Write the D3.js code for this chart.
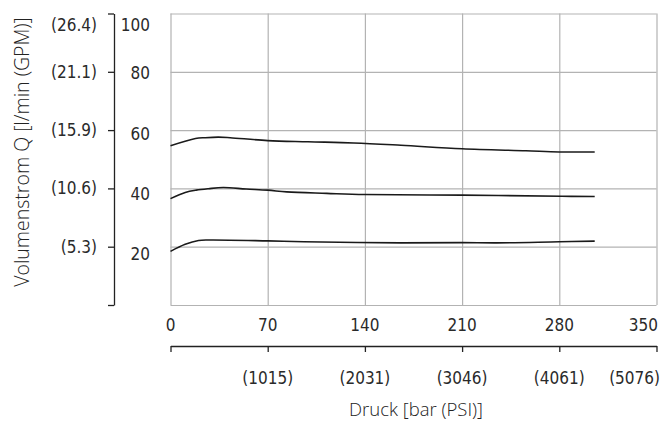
<!DOCTYPE html>
<html>
<head>
<meta charset="utf-8">
<script src="https://cdn.jsdelivr.net/npm/d3@7"></script>
<style>
  body { margin: 0; background: #fff; }
  .num { font-family: "DejaVu Sans", sans-serif; font-stretch: condensed; font-size: 17px; fill: #2a2a2a; }
  .ttl { font-family: "Open Sans", "Noto Sans", sans-serif; font-weight: 300; fill: #222; }
  .grid line { stroke: #b3b3b3; stroke-width: 1.2; }
  .grid path { display: none; }
</style>
</head>
<body>
<svg width="661" height="421"></svg>
<script>
// pressure in bar
var pTicks = [0, 70, 140, 210, 280, 350];
var psiLabels = ["", "(1015)", "(2031)", "(3046)", "(4061)", "(5076)"];
// flow in l/min
var qTicks = [0, 20, 40, 60, 80, 100];
var gpmLabels = ["", "(5.3)", "(10.6)", "(15.9)", "(21.1)", "(26.4)"];

var upperP = [0, 18, 25, 34.5, 43, 70, 99, 132, 166, 210, 256, 280, 305.5];
var upperQ = [54.6, 57.1, 57.4, 57.6, 57.4, 56.4, 56.0, 55.6, 54.8, 53.6, 52.9, 52.5, 52.5];
var middleP = [0, 10.6, 18.5, 27.3, 38, 54.5, 70, 83.7, 112.5, 140, 210, 282, 305.5];
var middleQ = [36.5, 38.6, 39.4, 39.9, 40.3, 39.8, 39.4, 38.8, 38.3, 37.9, 37.7, 37.3, 37.2];
var lowerP = [0, 10.6, 20.2, 27.3, 70, 96, 166, 210, 235, 280, 305.5];
var lowerQ = [18.4, 20.8, 22.1, 22.3, 22.0, 21.7, 21.3, 21.4, 21.3, 21.7, 21.9];

var svg = d3.select('svg');
var plotL = 170.5, plotR = 656.5, plotT = 13.5, plotB = 305;

var x = d3.scaleLinear().domain([0, 350]).range([plotL, plotR]);
var y = d3.scaleLinear().domain([0, 100]).range([plotB, plotT]);
// the l/min labels sit on a slightly stretched scale in the original
var yLab = d3.scaleLinear().domain([0, 100]).range([314, 13.3]);

// grid
svg.append('g')
  .attr('class', 'grid')
  .attr('transform', 'translate(0,' + plotB + ')')
  .call(d3.axisBottom(x).tickValues(pTicks).tickSize(-(plotB - plotT)).tickFormat(''));
svg.append('g')
  .attr('class', 'grid')
  .attr('transform', 'translate(' + plotL + ',0)')
  .call(d3.axisLeft(y).tickValues(qTicks).tickSize(-(plotR - plotL)).tickFormat(''));

// y bracket axis
var yAxis = svg.append('g')
  .attr('transform', 'translate(114,0)')
  .call(d3.axisLeft(y).tickValues(qTicks).tickSize(6).tickSizeOuter(0).tickFormat(''));
yAxis.select('.domain').attr('stroke', '#222').attr('stroke-width', 1.3);
yAxis.selectAll('.tick line').attr('stroke', '#222').attr('stroke-width', 1.3);

// GPM labels
svg.append('g').selectAll('text')
  .data(qTicks.slice(1))
  .enter().append('text')
  .attr('class', 'num')
  .attr('x', 97)
  .attr('y', function(d) { return d === 100 ? 25 : y(d); })
  .attr('dy', '0.35em')
  .attr('text-anchor', 'end')
  .text(function(d, i) { return gpmLabels[i + 1]; });

// l/min labels
svg.append('g').selectAll('text')
  .data(qTicks.slice(1))
  .enter().append('text')
  .attr('class', 'num')
  .attr('x', 150)
  .attr('y', function(d) { return d === 100 ? 25 : yLab(d); })
  .attr('dy', '0.35em')
  .attr('text-anchor', 'end')
  .text(function(d) { return d; });

// bar labels
svg.append('g').selectAll('text')
  .data(pTicks)
  .enter().append('text')
  .attr('class', 'num')
  .attr('x', function(d) { return d === 350 ? 658 : x(d); })
  .attr('y', 325)
  .attr('dy', '0.35em')
  .attr('text-anchor', function(d) { return d === 350 ? 'end' : 'middle'; })
  .text(function(d) { return d; });

// PSI axis
var psiAxis = svg.append('g')
  .attr('transform', 'translate(0,346)')
  .call(d3.axisBottom(x).tickValues(pTicks).tickSize(6).tickSizeOuter(0).tickFormat(''));
psiAxis.select('.domain').attr('stroke', '#222').attr('stroke-width', 1.3);
psiAxis.selectAll('.tick line').attr('stroke', '#222').attr('stroke-width', 1.3);

svg.append('g').selectAll('text')
  .data(pTicks.slice(1))
  .enter().append('text')
  .attr('class', 'num')
  .attr('x', function(d) { return d === 350 ? 660 : x(d); })
  .attr('y', 378)
  .attr('dy', '0.35em')
  .attr('text-anchor', function(d) { return d === 350 ? 'end' : 'middle'; })
  .text(function(d, i) { return psiLabels[i + 1]; });

// curves
var line = d3.line()
  .x(function(d) { return x(d[0]); })
  .y(function(d) { return y(d[1]); })
  .curve(d3.curveCatmullRom.alpha(0.5));

[[upperP, upperQ], [middleP, middleQ], [lowerP, lowerQ]].forEach(function(s) {
  var pts = s[0].map(function(p, i) { return [p, s[1][i]]; });
  svg.append('path')
    .datum(pts)
    .attr('d', line)
    .attr('fill', 'none')
    .attr('stroke', '#1a1a1a')
    .attr('stroke-width', 1.6);
});

// titles
svg.append('text')
  .attr('class', 'ttl')
  .style('font-size', '19.5px')
  .attr('text-anchor', 'middle')
  .attr('transform', 'translate(22,152) rotate(-90)')
  .attr('dy', '0.35em')
  .text('Volumenstrom Q [l/min (GPM)]');

svg.append('text')
  .attr('class', 'ttl')
  .style('font-size', '18.5px')
  .attr('text-anchor', 'middle')
  .attr('x', 416)
  .attr('y', 410)
  .attr('dy', '0.35em')
  .text('Druck [bar (PSI)]');
</script>
</body>
</html>
